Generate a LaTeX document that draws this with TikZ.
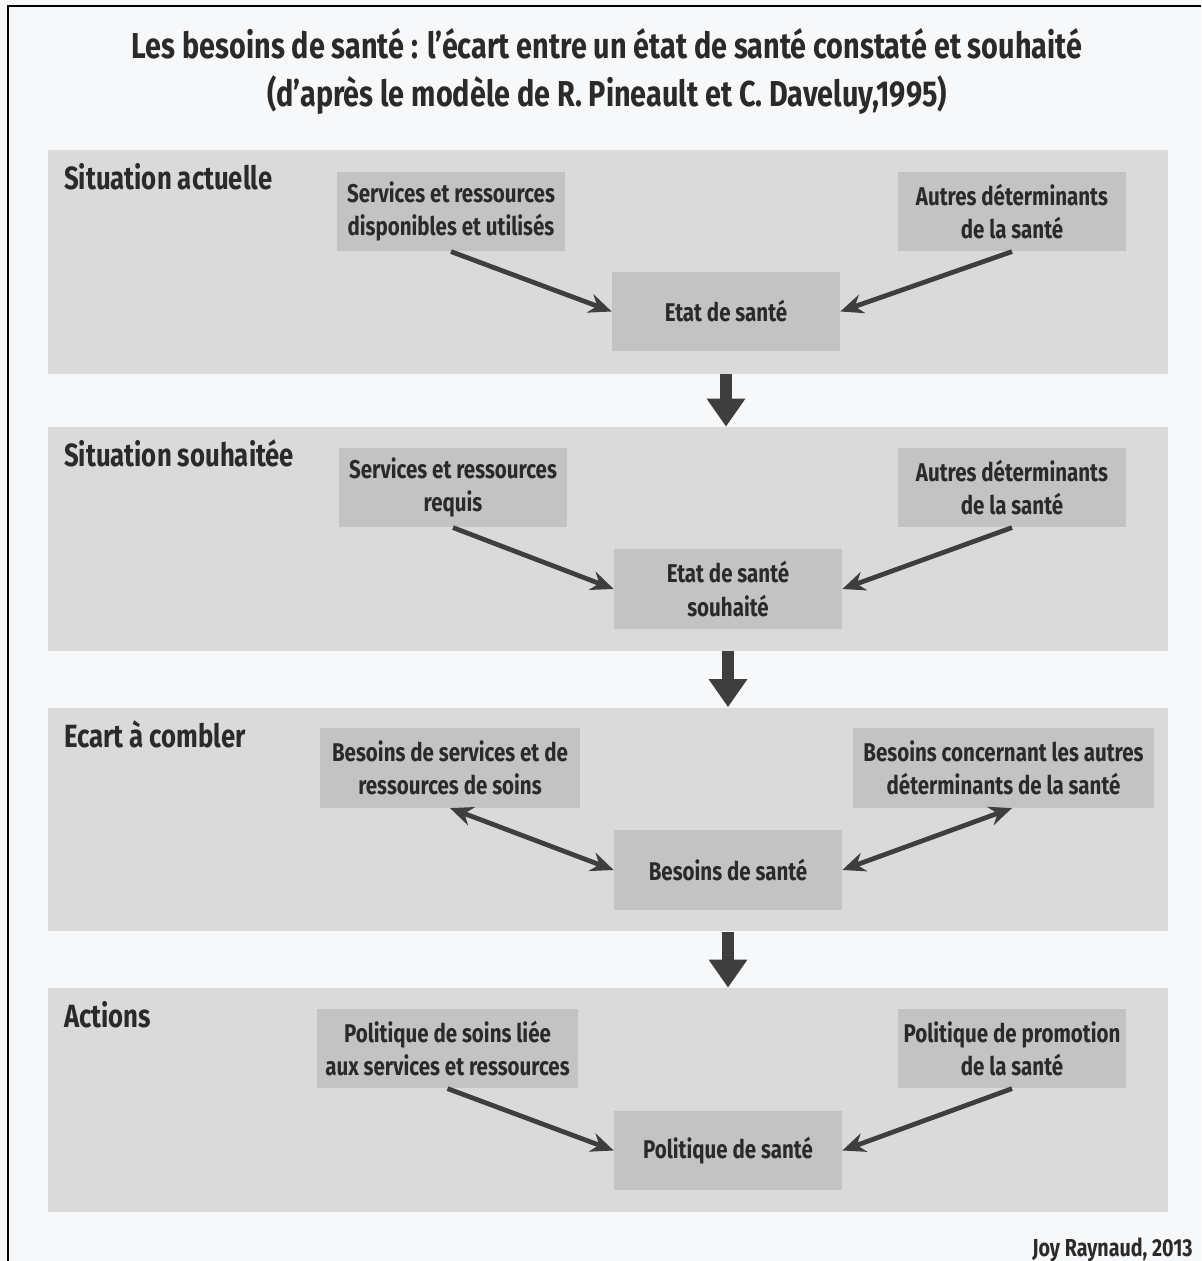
\documentclass[tikz,border=0pt]{standalone}
\usepackage{fontspec}
\setmainfont{Fira Sans}[FakeStretch=0.8, UprightFont=*-Bold]
\usepackage{tikz}
\usetikzlibrary{positioning, arrows.meta}

\definecolor{bgpage}{HTML}{F7F8FA}
\definecolor{panelgray}{HTML}{DADADA}
\definecolor{cellgray}{HTML}{C3C3C3}
\definecolor{inkgray}{HTML}{2A2A2A}
\definecolor{arrowgray}{HTML}{3E3E3E}

\begin{document}
\begin{tikzpicture}[x=0.02cm, y=-0.02cm, text=inkgray]
    \tikzset{panel/.style={fill=panelgray, minimum width=22.4cm, minimum height=4.48cm, inner sep=0pt},
      cell/.style={fill=cellgray, minimum width=4.56cm, minimum height=1.59cm, align=center, inner sep=0pt,
        font=\fontsize{14.6}{18.8}\selectfont},
      phase/.style={anchor=north west, inner sep=0pt, font=\fontsize{18.3}{20}\selectfont},
      link/.style={draw=arrowgray, line width=2.7pt, -{Stealth[length=13pt, width=11pt]}},
      twoway/.style={link, {Stealth[length=13pt, width=11pt]}-{Stealth[length=13pt, width=11pt]}},
      down/.style={draw=arrowgray, line width=7.2pt, -{Triangle[length=16pt, width=21pt]}}}
    % page
    \fill[bgpage] (0,0) rectangle (1201,1261);
    \useasboundingbox (0,0) rectangle (1201,1261);
    \draw[line width=1.6pt, black] (8,1261) -- (8,6) -- (1201,6);
    % title
    \node[align=center, font=\fontsize{20.5}{27.3}\selectfont] (title) at (607,71)
      {Les besoins de santé : l’écart entre un état de santé constaté et souhaité\\
       (d’après le modèle de R. Pineault et C. Daveluy,1995)};

    % situation actuelle
    \node[panel] (p1) at (608,262) {};
    \node[phase] (h1) at ([xshift=0.32cm, yshift=-0.26cm]p1.north west) {Situation actuelle};
    \node[cell] (s1) at (451,211.5) {Services et ressources\\disponibles et utilisés};
    \node[cell] (o1) at (1012,211.5) {Autres déterminants\\de la santé};
    \node[cell] (e1) at (726,311.5) {Etat de santé};
    \draw[link] (s1.south) -- (e1.west);
    \draw[link] (o1.south) -- (e1.east);

    % situation souhaitee
    \node[panel] (p2) at (608,539) {};
    \node[phase] (h2) at ([xshift=0.32cm, yshift=-0.26cm]p2.north west) {Situation souhaitée};
    \node[cell] (s2) at (453,487.5) {Services et ressources\\requis};
    \node[cell] (o2) at (1012,487.5) {Autres déterminants\\de la santé};
    \node[cell] (e2) at (728,589) {Etat de santé\\souhaité};
    \draw[link] (s2.south) -- (e2.west);
    \draw[link] (o2.south) -- (e2.east);

    % ecart
    \node[panel] (p3) at (608,819.5) {};
    \node[phase] (h3) at ([xshift=0.32cm, yshift=-0.26cm]p3.north west) {Ecart à combler};
    \node[cell, minimum width=5.2cm] (s3) at (450,768) {Besoins de services et de\\ressources de soins};
    \node[cell, minimum width=6.02cm] (o3) at (1003.5,768) {Besoins concernant les autres\\déterminants de la santé};
    \node[cell] (e3) at (728,870) {Besoins de santé};
    \draw[twoway] (s3.south) -- (e3.west);
    \draw[twoway] ([xshift=0.17cm]o3.south) -- (e3.east);

    % actions
    \node[panel] (p4) at (608,1100) {};
    \node[phase] (h4) at ([xshift=0.32cm, yshift=-0.26cm]p4.north west) {Actions};
    \node[cell, minimum width=5.22cm] (s4) at (447.5,1048.5) {Politique de soins liée\\aux services et ressources};
    \node[cell] (o4) at (1012,1048.5) {Politique de promotion\\de la santé};
    \node[cell] (e4) at (728,1150.5) {Politique de santé};
    \draw[link] (s4.south) -- (e4.west);
    \draw[link] (o4.south) -- (e4.east);

    % between the phases
    \draw[down] (e1 |- p1.south) -- (e1 |- p2.north);
    \draw[down] (e2 |- p2.south) -- (e2 |- p3.north);
    \draw[down] (e3 |- p3.south) -- (e3 |- p4.north);

    \node[anchor=east, inner sep=0pt, font=\fontsize{14}{16}\selectfont] (sign) at (1193,1250) {Joy Raynaud, 2013};
  \end{tikzpicture}
\end{document}
